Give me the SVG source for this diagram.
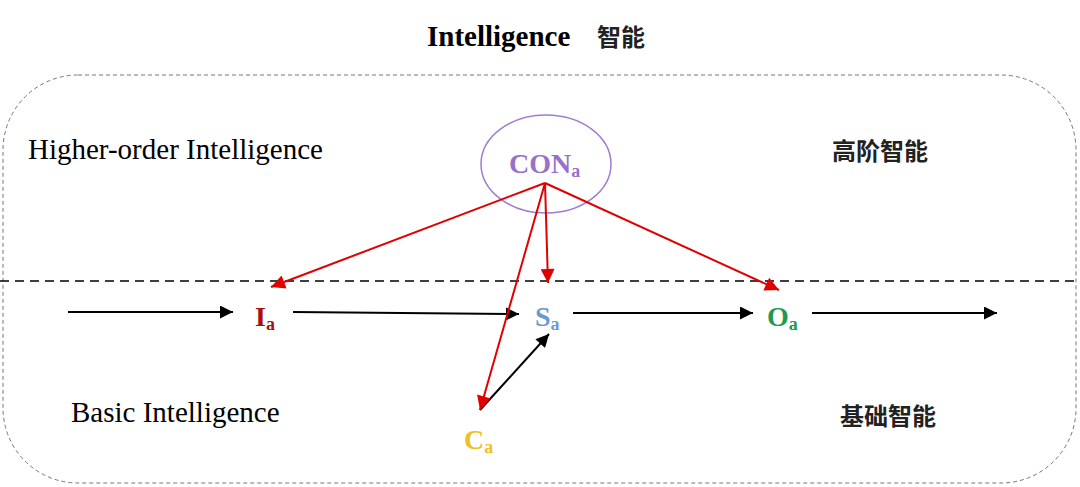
<svg xmlns="http://www.w3.org/2000/svg" width="1080" height="487" viewBox="0 0 1080 487">
<defs>
<marker id="ab" viewBox="0 0 10 10" refX="10" refY="5" markerWidth="22" markerHeight="13" markerUnits="userSpaceOnUse" orient="auto"><path d="M0,0 L10,5 L0,10 Z" fill="#000"/></marker>
<marker id="ar" viewBox="0 0 10 10" refX="10" refY="5" markerWidth="22" markerHeight="14" markerUnits="userSpaceOnUse" orient="auto"><path d="M0,0 L10,5 L0,10 Z" fill="#e00000"/></marker>
</defs>
<style>
.en{font-family:"Liberation Serif",serif;font-size:29px;fill:#000}
.cn{font-family:"Noto Sans CJK SC",sans-serif;font-size:24px;font-weight:bold;fill:#222}
.lbl{font-family:"Liberation Serif",serif;font-weight:bold;font-size:28px}
.sub{font-size:18px}
.blk{stroke:#000;stroke-width:2;fill:none;marker-end:url(#ab)}
.red{stroke:#e00000;stroke-width:2;fill:none;marker-end:url(#ar)}
</style>
<rect width="1080" height="487" fill="#fff"/>
<g id="frame">
<rect x="3" y="75" width="1073" height="408" rx="75" ry="75" fill="none" stroke="#777" stroke-width="1" stroke-dasharray="4,3"/>
<line x1="0" y1="281" x2="1080" y2="281" stroke="#000" stroke-width="1.3" stroke-dasharray="9,6"/>
</g>
<g id="texts">
<text x="427" y="46" class="en" style="font-weight:bold">Intelligence</text>
<text x="597" y="46" class="cn" style="font-size:24px">智能</text>
<text x="28" y="159" class="en">Higher-order Intelligence</text>
<text x="71" y="422" class="en">Basic Intelligence</text>
<text x="832" y="160" class="cn">高阶智能</text>
<text x="840" y="425" class="cn">基础智能</text>
</g>
<g id="CON">
<ellipse cx="546" cy="164" rx="65" ry="49" fill="none" stroke="#a07cd0" stroke-width="1.5"/>
<text x="509" y="173" class="lbl" fill="#9a70c8">CON<tspan class="sub" dy="4">a</tspan></text>
</g>
<g id="Ia"><text x="255" y="326" class="lbl" fill="#a50f15">I<tspan class="sub" dy="4">a</tspan></text></g>
<g id="Sa"><text x="535" y="326" class="lbl" fill="#6a9bd0">S<tspan class="sub" dy="4">a</tspan></text></g>
<g id="Oa"><text x="767" y="326" class="lbl" fill="#1e9a52">O<tspan class="sub" dy="4">a</tspan></text></g>
<g id="Ca"><text x="464" y="449" class="lbl" fill="#f0c020">C<tspan class="sub" dy="4">a</tspan></text></g>
<g id="connectors">
<line x1="68" y1="312" x2="233" y2="312" class="blk"/>
<line x1="293" y1="312" x2="519" y2="314" class="blk"/>
<line x1="573" y1="313" x2="753" y2="313" class="blk"/>
<line x1="812" y1="313" x2="997" y2="313" class="blk"/>
<line x1="480" y1="410" x2="549" y2="334" class="blk"/>
<line x1="545" y1="183" x2="271" y2="287" class="red"/>
<line x1="545" y1="183" x2="548" y2="283" class="red"/>
<line x1="545" y1="183" x2="779" y2="290" class="red"/>
<line x1="545" y1="183" x2="480" y2="410" class="red"/>
</g>
</svg>
